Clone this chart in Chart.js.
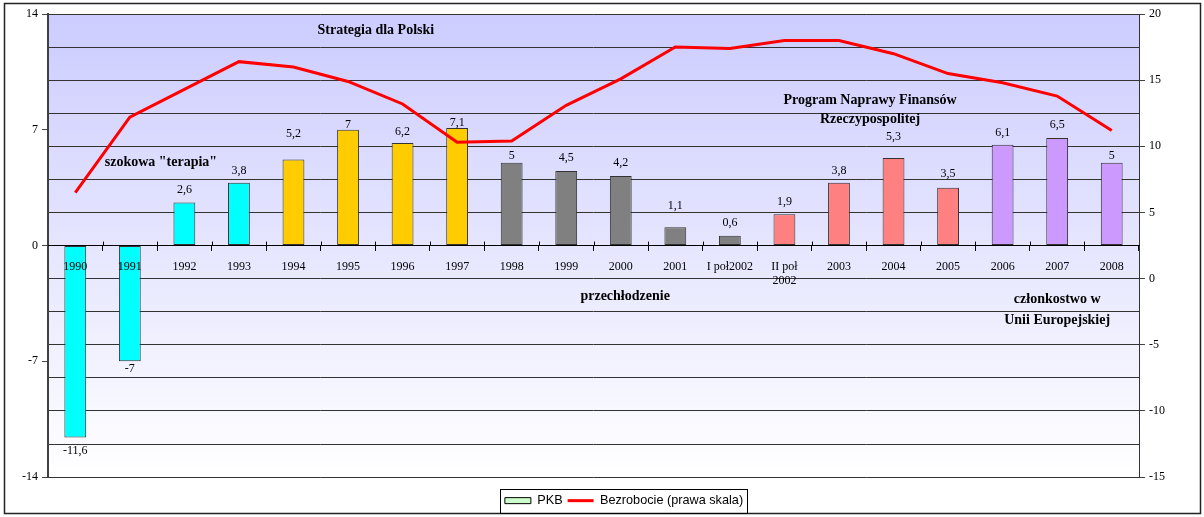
<!DOCTYPE html>
<html>
<head>
<meta charset="utf-8">
<script src="https://cdn.jsdelivr.net/npm/chart.js@4.4.1/dist/chart.umd.min.js"></script>
<style>
  html, body { margin: 0; padding: 0; background: #fff; }
</style>
</head>
<body>
<canvas id="pkbChart" width="1204" height="517"></canvas>
<script>
// dane z wykresu
const LATA = ['1990', '1991', '1992', '1993', '1994', '1995', '1996', '1997', '1998', '1999',
  '2000', '2001', 'I poł2002', ['II poł', '2002'], '2003', '2004', '2005', '2006', '2007', '2008'];
const PKB = [-11.6, -7, 2.6, 3.8, 5.2, 7, 6.2, 7.1, 5, 4.5, 4.2, 1.1, 0.6, 1.9, 3.8, 5.3, 3.5, 6.1, 6.5, 5];
const BEZROBOCIE = [6.5, 12.2, 14.3, 16.4, 16.0, 14.9, 13.2, 10.3, 10.4, 13.1, 15.1, 17.5, 17.4,
  18.0, 18.0, 17.0, 15.5, 14.8, 13.8, 11.2];

const COLOR_TURKUS = '#00FFFF';
const COLOR_ZLOTY = '#FFCC00';
const COLOR_SZARY = '#808080';
const COLOR_LOSOS = '#FF8080';
const COLOR_LILA = '#CC99FF';
const KOLORY_SLUPKOW = [
  COLOR_TURKUS, COLOR_TURKUS, COLOR_TURKUS, COLOR_TURKUS,
  COLOR_ZLOTY, COLOR_ZLOTY, COLOR_ZLOTY, COLOR_ZLOTY,
  COLOR_SZARY, COLOR_SZARY, COLOR_SZARY, COLOR_SZARY, COLOR_SZARY,
  COLOR_LOSOS, COLOR_LOSOS, COLOR_LOSOS, COLOR_LOSOS,
  COLOR_LILA, COLOR_LILA, COLOR_LILA
];
// przesuniecie etykiet wartosci wzgledem konca slupka (px), jak w oryginale
const PRZESUNIECIA_ETYKIET = [13, 7.5, -13, -11.5, -26, -5, -11.5, -5, -7, -13.5,
  -13.5, -22, -13, -12, -12, -21, -14, -12, -13, -7];

// opisy okresow (x = pozycja kategorii, y = lewa skala)
const OPISY = [
  { tekst: 'Strategia dla Polski', x: 5.51, y: 13 },
  { tekst: 'szokowa "terapia"', x: 1.57, y: 5.0 },
  { tekst: 'Program Naprawy Finansów', x: 14.57, y: 8.8 },
  { tekst: 'Rzeczypospolitej', x: 14.57, y: 7.6 },
  { tekst: 'przechłodzenie', x: 10.08, y: -3.1 },
  { tekst: 'członkostwo w', x: 18.0, y: -3.25 },
  { tekst: 'Unii Europejskiej', x: 18.0, y: -4.55 }
];

const SERIF = '"Liberation Serif", "Times New Roman", serif';
Chart.defaults.font.family = SERIF;
Chart.defaults.font.size = 12;
Chart.defaults.color = '#000';

const formatuj = v => String(v).replace('.', ',');
const PRZESUNIECIE_LEGENDY = 22;

// tlo: ramka calosci + gradient obszaru wykresu
const tloPlugin = {
  id: 'tlo',
  afterUpdate(chart) {
    // legenda w oryginale lezy troche na prawo od srodka
    const lg = chart.legend;
    lg.left += PRZESUNIECIE_LEGENDY;
    lg.right += PRZESUNIECIE_LEGENDY;
    (lg.legendHitBoxes || []).forEach(b => { b.left += PRZESUNIECIE_LEGENDY; });
  },
  beforeDraw(chart) {
    const { ctx, chartArea: a } = chart;
    ctx.save();
    ctx.fillStyle = '#fff';
    ctx.fillRect(0, 0, chart.width, chart.height);
    const g = ctx.createLinearGradient(0, a.top, 0, a.bottom);
    g.addColorStop(0, '#CCCCFF');
    g.addColorStop(1, '#FFFFFF');
    ctx.fillStyle = g;
    ctx.fillRect(a.left, a.top, a.right - a.left, a.bottom - a.top);
    ctx.strokeStyle = '#222';
    ctx.lineWidth = 1.5;
    ctx.strokeRect(4.5, 3.5, 1196, 510);
    ctx.restore();
  }
};

// wartosci nad slupkami i opisy okresow
const opisyPlugin = {
  id: 'opisy',
  afterDatasetsDraw(chart) {
    const { ctx } = chart;
    const meta = chart.getDatasetMeta(0);
    ctx.save();
    ctx.fillStyle = '#000';
    ctx.textAlign = 'center';
    ctx.textBaseline = 'middle';
    ctx.font = '12px ' + SERIF;
    meta.data.forEach((el, i) => {
      ctx.fillText(formatuj(PKB[i]), el.x, el.y + PRZESUNIECIA_ETYKIET[i]);
    });
    ctx.font = 'bold 14px ' + SERIF;
    const xs = chart.scales.x, ys = chart.scales.y;
    OPISY.forEach(o => {
      ctx.fillText(o.tekst, xs.getPixelForValue(o.x), ys.getPixelForValue(o.y));
    });
    ctx.restore();
  },
  afterDraw(chart) {
    const { ctx } = chart;
    const xs = chart.scales.x;
    const y0 = chart.scales.y.getPixelForValue(0);
    ctx.save();
    ctx.strokeStyle = '#000';
    ctx.lineWidth = 1;
    // kreski osi kategorii siegaja tez w gore
    for (let i = 0; i < LATA.length - 1; i++) {
      const x = Math.round((xs.getPixelForTick(i) + xs.getPixelForTick(i + 1)) / 2) + 0.5;
      ctx.beginPath();
      ctx.moveTo(x, y0 - 4);
      ctx.lineTo(x, y0);
      ctx.stroke();
    }
    // ramka legendy
    const boxes = chart.legend.legendHitBoxes;
    if (boxes && boxes.length) {
      const l = Math.min(...boxes.map(b => b.left)) - 5;
      const r = Math.max(...boxes.map(b => b.left + b.width)) + 4;
      const t = Math.min(...boxes.map(b => b.top)) - 5;
      const b = Math.max(...boxes.map(bb => bb.top + bb.height)) + 6;
      ctx.strokeRect(Math.round(l) + 0.5, Math.round(t) + 0.5, Math.round(r - l), Math.round(b - t));
    }
    ctx.restore();
  }
};

const ctx = document.getElementById('pkbChart').getContext('2d');
new Chart(ctx, {
  type: 'bar',
  data: {
    labels: LATA,
    datasets: [
      {
        type: 'bar',
        label: 'PKB',
        data: PKB,
        yAxisID: 'y',
        backgroundColor: KOLORY_SLUPKOW,
        borderColor: '#333',
        borderWidth: 1,
        borderSkipped: false,
        barPercentage: 0.8,
        categoryPercentage: 0.5,
        pointStyle: 'rect',
        order: 2
      },
      {
        type: 'line',
        label: 'Bezrobocie (prawa skala)',
        data: BEZROBOCIE,
        yAxisID: 'y1',
        borderColor: '#FF0000',
        backgroundColor: '#FF0000',
        borderWidth: 3,
        pointRadius: 0,
        tension: 0,
        fill: false,
        pointStyle: 'line',
        order: 1
      }
    ]
  },
  options: {
    responsive: false,
    animation: false,
    layout: { padding: { left: 0, right: 0, top: 14, bottom: 0 } },
    plugins: {
      tooltip: { enabled: false },
      legend: {
        position: 'bottom',
        title: { display: true, text: '', font: { size: 1 }, padding: { top: 0, bottom: 11 } },
        labels: {
          font: { family: '"Liberation Sans", Arial, sans-serif', size: 12.7 },
          color: '#000',
          usePointStyle: true,
          pointStyleWidth: 26,
          boxHeight: 6,
          padding: 5,
          sort: (a, b) => a.datasetIndex - b.datasetIndex,
          generateLabels(chart) {
            const items = Chart.defaults.plugins.legend.labels.generateLabels(chart);
            items.forEach(it => {
              if (it.datasetIndex === 0) {
                it.fillStyle = '#CCFFCC';
                it.strokeStyle = '#000';
                it.lineWidth = 1;
              } else {
                it.strokeStyle = '#FF0000';
                it.lineWidth = 3;
              }
            });
            return items;
          }
        }
      }
    },
    scales: {
      x: {
        type: 'category',
        position: { y: 0 },
        offset: true,
        grid: { drawOnChartArea: false, offset: true, tickLength: 5, color: '#000' },
        border: { display: true, color: '#000', width: 1, z: 1 },
        ticks: { padding: 9, maxRotation: 0, autoSkip: false, color: '#000', z: 1 }
      },
      y: {
        position: 'left',
        min: -14,
        max: 14,
        ticks: { stepSize: 7, padding: 4, color: '#000' },
        grid: { drawOnChartArea: false, tickLength: 6, color: '#444' },
        border: { display: true, color: '#404040', width: 2 },
        afterFit(s) { s.width = 48; }
      },
      y1: {
        position: 'right',
        min: -15,
        max: 20,
        ticks: {
          stepSize: 2.5,
          padding: 4,
          color: '#000',
          callback: v => (v % 5 === 0 ? v : '')
        },
        grid: {
          drawOnChartArea: true,
          color: '#333',
          tickLength: 6,
          tickColor: c => (c.tick && c.tick.value % 5 === 0 ? '#444' : 'rgba(0,0,0,0)')
        },
        border: { display: true, color: '#333', width: 1 },
        afterFit(s) { s.width = 65; }
      }
    }
  },
  plugins: [tloPlugin, opisyPlugin]
});
</script>
</body>
</html>
